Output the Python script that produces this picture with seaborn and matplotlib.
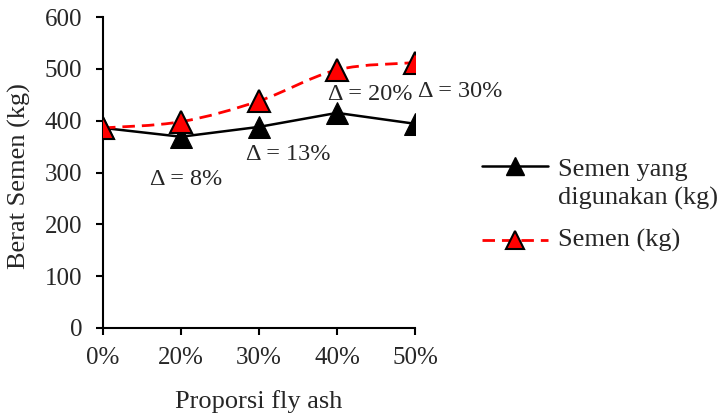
import numpy as np
import pandas as pd
import seaborn as sns
import matplotlib
matplotlib.use("Agg")
import matplotlib.pyplot as plt
from matplotlib.path import Path
from matplotlib.patches import PathPatch
from matplotlib.lines import Line2D

# Data
proporsi = ["0%", "20%", "30%", "40%", "50%"]
semen_digunakan = [386, 369, 388, 415, 394]
semen_total = [386, 398, 438, 498, 512]
delta_labels = ["Δ = 8%", "Δ = 13%", "Δ = 20%", "Δ = 30%"]

sns.set_theme(style="ticks")
plt.rcParams["font.family"] = ["Liberation Serif", "DejaVu Serif"]

TICK_FS = 18
NOTE_FS = 17.5
TITLE_FS = 19
RED = "#FF0000"
DASH = (0, (4.5, 2.5))

df = pd.DataFrame({"Proporsi": proporsi,
                   "Semen yang digunakan (kg)": semen_digunakan,
                   "Semen (kg)": semen_total})
df["pos"] = np.arange(len(proporsi))

W, H = 7.23, 4.16
fig = plt.figure(figsize=(W, H), dpi=100)
ax = fig.add_axes([103 / 723, 88 / 416, 312 / 723, 311 / 416])

# Black solid series
sns.lineplot(data=df, x="pos", y="Semen yang digunakan (kg)", ax=ax,
             color="black", linewidth=1.8, marker="^", markersize=16,
             markerfacecolor="black", markeredgecolor="black", zorder=3)

# Red smoothed dashed series (Bezier curve through the points)
xs = df["pos"].to_numpy(float)
ys = np.array(semen_total, float)
pts = np.column_stack([xs, ys])
verts = [tuple(pts[0])]
codes = [Path.MOVETO]
t = 1 / 6
for i in range(len(pts) - 1):
    p0 = pts[i - 1] if i > 0 else pts[i]
    p1 = pts[i]
    p2 = pts[i + 1]
    p3 = pts[i + 2] if i + 2 < len(pts) else pts[i + 1]
    c1 = p1 + (p2 - p0) * t
    c2 = p2 - (p3 - p1) * t
    verts += [tuple(c1), tuple(c2), tuple(p2)]
    codes += [Path.CURVE4] * 3
ax.add_patch(PathPatch(Path(verts, codes), facecolor="none", edgecolor=RED,
                       linewidth=2, linestyle=DASH, zorder=4))
sns.lineplot(data=df, x="pos", y="Semen (kg)", ax=ax, linestyle="",
             marker="^", markersize=16, markerfacecolor=RED,
             markeredgecolor="black", markeredgewidth=1.5, zorder=5)

# Percentage annotations
offsets = [(1.06, 286), (2.37, 334), (3.42, 450), (4.58, 456)]
for lab, (x, y) in zip(delta_labels, offsets):
    ax.text(x, y, lab, ha="center", va="center", fontsize=NOTE_FS, zorder=6)

ax.set_xlim(0, 4)
ax.set_ylim(0, 600)
ax.set_xticks(df["pos"])
ax.set_xticklabels(proporsi)
ax.set_yticks(np.arange(0, 601, 100))
ax.set_xlabel("Proporsi fly ash", fontsize=TITLE_FS)
ax.set_ylabel("Berat Semen (kg)", fontsize=TITLE_FS)
ax.xaxis.set_label_coords(0.5, -0.2)
ax.yaxis.set_label_coords(-0.232, 0.49)
ax.tick_params(axis="both", labelsize=TICK_FS, length=5, width=1.5,
               color="black")
ax.tick_params(axis="x", pad=9)
ax.tick_params(axis="y", pad=10)
sns.despine(ax=ax)
for side in ["left", "bottom"]:
    ax.spines[side].set_linewidth(1.5)
    ax.spines[side].set_color("black")
for s in ax.spines.values():
    s.set_clip_on(False)

# Legend drawn beside the plot, handle aligned with the first text line
def fx(px):
    return px / 723

def fy(py):
    return 1 - py / 416

fig.add_artist(Line2D([fx(482), fx(548)], [fy(166), fy(166)],
                      transform=fig.transFigure, color="black", linewidth=1.8))
fig.add_artist(Line2D([fx(515)], [fy(166)], transform=fig.transFigure,
                      linestyle="", marker="^", markersize=13,
                      markerfacecolor="black", markeredgecolor="black"))
fig.add_artist(Line2D([fx(482), fx(548)], [fy(240), fy(240)],
                      transform=fig.transFigure, color=RED, linewidth=2,
                      linestyle=DASH))
fig.add_artist(Line2D([fx(515)], [fy(240)], transform=fig.transFigure,
                      linestyle="", marker="^", markersize=13,
                      markerfacecolor=RED, markeredgecolor="black",
                      markeredgewidth=1.5))
fig.text(fx(558), fy(176), "Semen yang", fontsize=TITLE_FS,
         ha="left", va="baseline")
fig.text(fx(558), fy(205), "digunakan (kg)", fontsize=TITLE_FS,
         ha="left", va="baseline")
fig.text(fx(558), fy(247), "Semen (kg)", fontsize=TITLE_FS,
         ha="left", va="baseline")

fig.savefig("out.png", dpi=100)
